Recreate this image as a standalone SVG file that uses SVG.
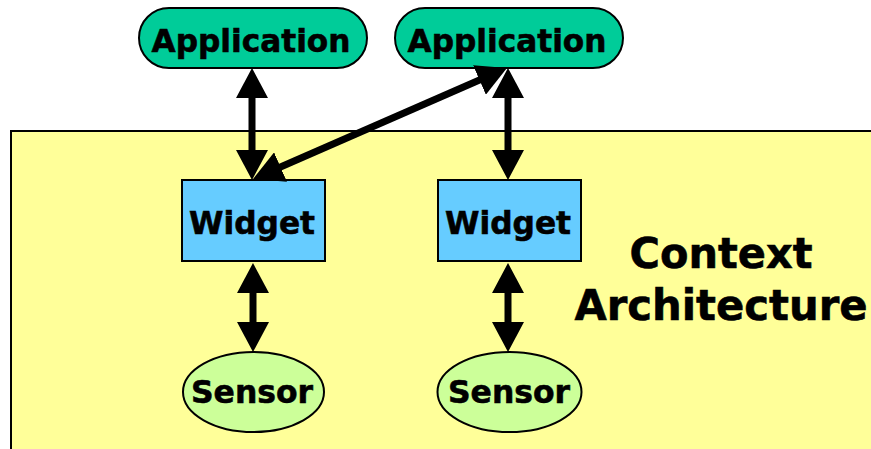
<svg xmlns="http://www.w3.org/2000/svg" width="871" height="449" viewBox="0 0 871 449">
<style>
text{font-family:"DejaVu Sans","Liberation Sans",sans-serif;font-weight:bold;fill:#000;text-anchor:middle;stroke:#000;stroke-width:0.6}
.lbl{font-size:32px}
.big{font-size:42px}
.app{fill:#00CC99;stroke:#000;stroke-width:2}
.wid{fill:#66CCFF;stroke:#000;stroke-width:2}
.sen{fill:#CCFF99;stroke:#000;stroke-width:2}
.conn line{stroke:#000;stroke-width:7;marker-start:url(#ah);marker-end:url(#ah)}
</style>
<defs>
<marker id="ah" markerUnits="userSpaceOnUse" markerWidth="30" markerHeight="32" refX="20" refY="16" orient="auto-start-reverse" viewBox="0 0 30 32">
<path d="M0,0 L30,16 L0,32 z" fill="#000"/>
</marker>
</defs>
<rect id="context-architecture" x="11" y="131" width="870" height="330" fill="#FFFF99" stroke="#000" stroke-width="2"/>
<text class="big" x="721" y="268" textLength="183" lengthAdjust="spacingAndGlyphs">Context</text>
<text class="big" x="721" y="320" textLength="293" lengthAdjust="spacingAndGlyphs">Architecture</text>
<g id="app1"><rect class="app" x="139" y="8" width="228" height="60" rx="30"/><text class="lbl" x="251" y="52" textLength="199" lengthAdjust="spacingAndGlyphs">Application</text></g>
<g id="app2"><rect class="app" x="395" y="8" width="228" height="60" rx="30"/><text class="lbl" x="507" y="52" textLength="199" lengthAdjust="spacingAndGlyphs">Application</text></g>
<g id="widget1"><rect class="wid" x="182" y="180" width="143" height="81"/><text class="lbl" x="252" y="234" textLength="126" lengthAdjust="spacingAndGlyphs">Widget</text></g>
<g id="widget2"><rect class="wid" x="438" y="180" width="143" height="81"/><text class="lbl" x="508" y="234" textLength="126" lengthAdjust="spacingAndGlyphs">Widget</text></g>
<g id="sensor1"><ellipse class="sen" cx="253.5" cy="392" rx="70.5" ry="40"/><text class="lbl" x="252" y="403" textLength="122" lengthAdjust="spacingAndGlyphs">Sensor</text></g>
<g id="sensor2"><ellipse class="sen" cx="509.5" cy="392" rx="72" ry="40"/><text class="lbl" x="509" y="403" textLength="122" lengthAdjust="spacingAndGlyphs">Sensor</text></g>
<g id="connectors" class="conn">
<line x1="252" y1="78" x2="252" y2="170"/>
<line x1="508" y1="78" x2="508" y2="170"/>
<line x1="497.8" y1="72" x2="262.2" y2="175"/>
<line x1="253" y1="273" x2="253" y2="342"/>
<line x1="508" y1="273" x2="508" y2="342"/>
</g>
</svg>
